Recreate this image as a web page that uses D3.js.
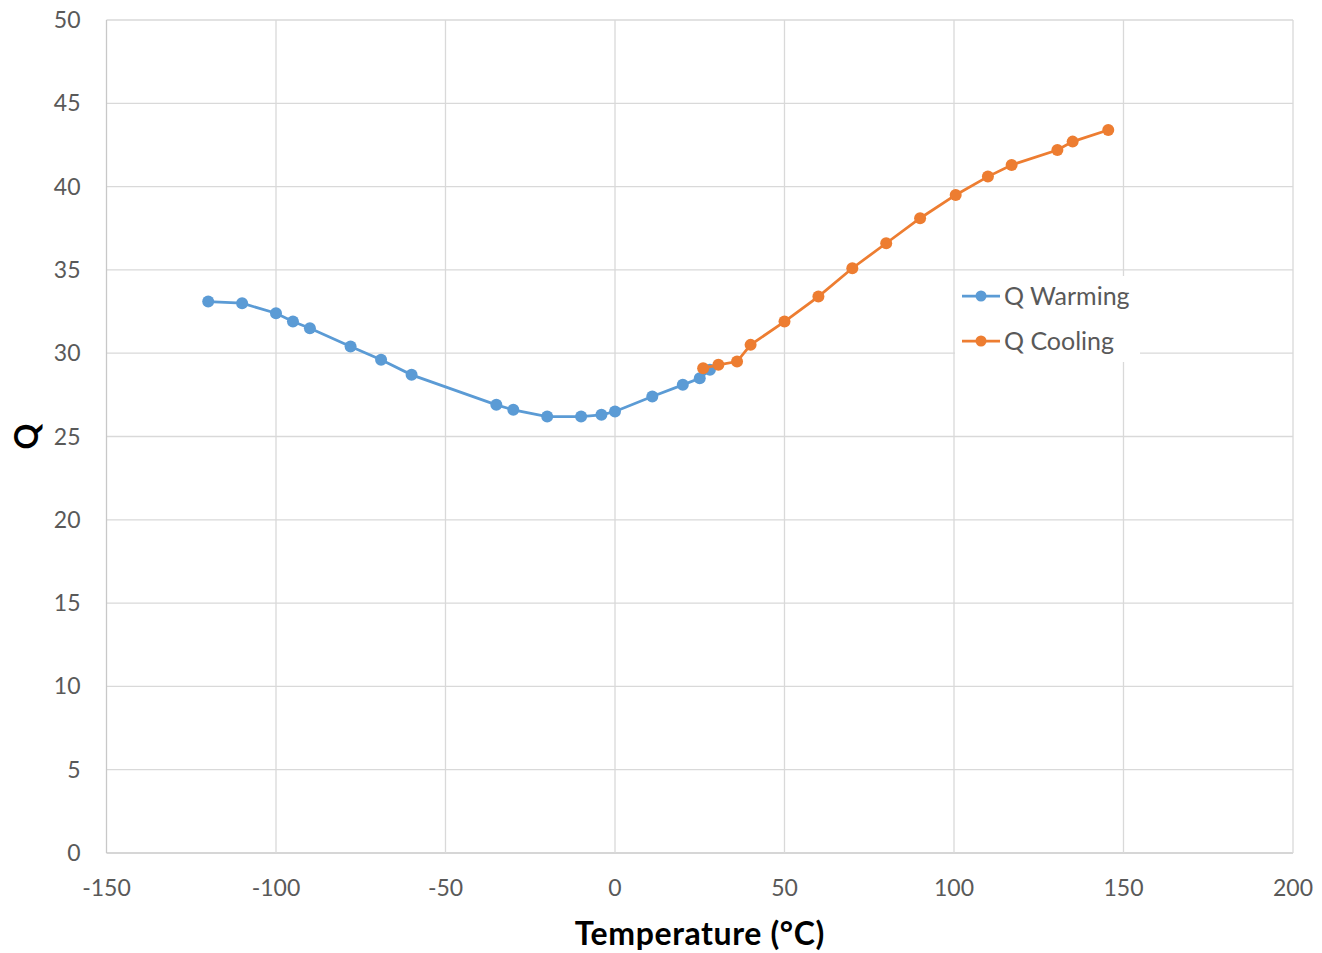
<!DOCTYPE html>
<html>
<head>
<meta charset="utf-8">
<script src="https://cdn.jsdelivr.net/npm/d3@7"></script>
<style>
  body { margin: 0; background: #fff; }
  text { font-family: Lato, "Open Sans", sans-serif; }
</style>
</head>
<body>
<div id="chart"></div>
<script>
// Q vs temperature
const warmingTemp = [-120, -110, -100, -95, -90, -78, -69, -60, -35, -30, -20, -10, -4, 0, 11, 20, 25, 28];
const warmingQ    = [33.1, 33.0, 32.4, 31.9, 31.5, 30.4, 29.6, 28.7, 26.9, 26.6, 26.2, 26.2, 26.3, 26.5, 27.4, 28.1, 28.5, 29.0];
const coolingTemp = [26, 30.5, 36, 40, 50, 60, 70, 80, 90, 100.5, 110, 117, 130.5, 135, 145.5];
const coolingQ    = [29.1, 29.3, 29.5, 30.5, 31.9, 33.4, 35.1, 36.6, 38.1, 39.5, 40.6, 41.3, 42.2, 42.7, 43.4];
const xTicks = [-150, -100, -50, 0, 50, 100, 150, 200];
const yTicks = [0, 5, 10, 15, 20, 25, 30, 35, 40, 45, 50];
const seriesNames = ["Q Warming", "Q Cooling"];
const seriesColors = ["#5B9BD5", "#ED7D31"];

const W = 1322, H = 953;
const margin = {top: 20, right: 29, bottom: 100, left: 106.5};
const width = W - margin.left - margin.right,
      height = H - margin.top - margin.bottom;

const svg = d3.select("#chart").append("svg")
    .attr("width", W).attr("height", H);
const g = svg.append("g")
    .attr("transform", `translate(${margin.left},${margin.top})`);

const x = d3.scaleLinear().domain([-150, 200]).range([0, width]);
const y = d3.scaleLinear().domain([0, 50]).range([height, 0]);

// gridlines
g.append("g").selectAll("line.h").data(yTicks).enter().append("line")
    .attr("x1", 0).attr("x2", width)
    .attr("y1", d => y(d)).attr("y2", d => y(d))
    .attr("stroke", d => d === 0 ? "#c8c8c8" : "#d9d9d9").attr("stroke-width", 1.3);
g.append("g").selectAll("line.v").data(xTicks).enter().append("line")
    .attr("y1", 0).attr("y2", height)
    .attr("x1", d => x(d)).attr("x2", d => x(d))
    .attr("stroke", d => d === -150 ? "#c8c8c8" : "#d9d9d9").attr("stroke-width", 1.3);

// tick labels
g.append("g").selectAll("text").data(yTicks).enter().append("text")
    .attr("x", -26).attr("y", d => y(d)).attr("dy", "0.35em")
    .attr("text-anchor", "end").attr("font-size", 23).attr("fill", "#595959")
    .text(d => d);
g.append("g").selectAll("text").data(xTicks).enter().append("text")
    .attr("x", d => x(d)).attr("y", height + 43)
    .attr("text-anchor", "middle").attr("font-size", 23).attr("fill", "#595959")
    .text(d => d);

// axis titles
svg.append("text")
    .attr("x", margin.left + x(25)).attr("y", 945)
    .attr("text-anchor", "middle").attr("font-size", 32).attr("font-weight", "bold")
    .attr("letter-spacing", 0.6)
    .attr("fill", "#000").text("Temperature (°C)");
svg.append("text")
    .attr("transform", `translate(38,${margin.top + y(25)}) rotate(-90)`)
    .attr("text-anchor", "middle").attr("font-size", 32).attr("font-weight", "bold")
    .attr("fill", "#000").text("Q");

const line = d3.line().x(d => x(d[0])).y(d => y(d[1]));
const series = [
  d3.zip(warmingTemp, warmingQ),
  d3.zip(coolingTemp, coolingQ)
];

series.forEach((data, i) => {
  g.append("path").datum(data)
      .attr("fill", "none").attr("stroke", seriesColors[i])
      .attr("stroke-width", 2.75).attr("d", line);
  g.append("g").selectAll("circle").data(data).enter().append("circle")
      .attr("cx", d => x(d[0])).attr("cy", d => y(d[1]))
      .attr("r", 6).attr("fill", seriesColors[i]);
});

// legend
const lg = svg.append("g").attr("transform", "translate(955,276)");
lg.append("rect").attr("width", 185).attr("height", 86).attr("fill", "#fff");
seriesNames.forEach((name, i) => {
  const yy = 20 + i * 45;
  lg.append("line").attr("x1", 7).attr("x2", 45).attr("y1", yy).attr("y2", yy)
      .attr("stroke", seriesColors[i]).attr("stroke-width", 2.75);
  lg.append("circle").attr("cx", 26).attr("cy", yy).attr("r", 5.5).attr("fill", seriesColors[i]);
  lg.append("text").attr("x", 49).attr("y", yy).attr("dy", "0.35em")
      .attr("font-size", 25).attr("fill", "#595959").text(name);
});
</script>
</body>
</html>
